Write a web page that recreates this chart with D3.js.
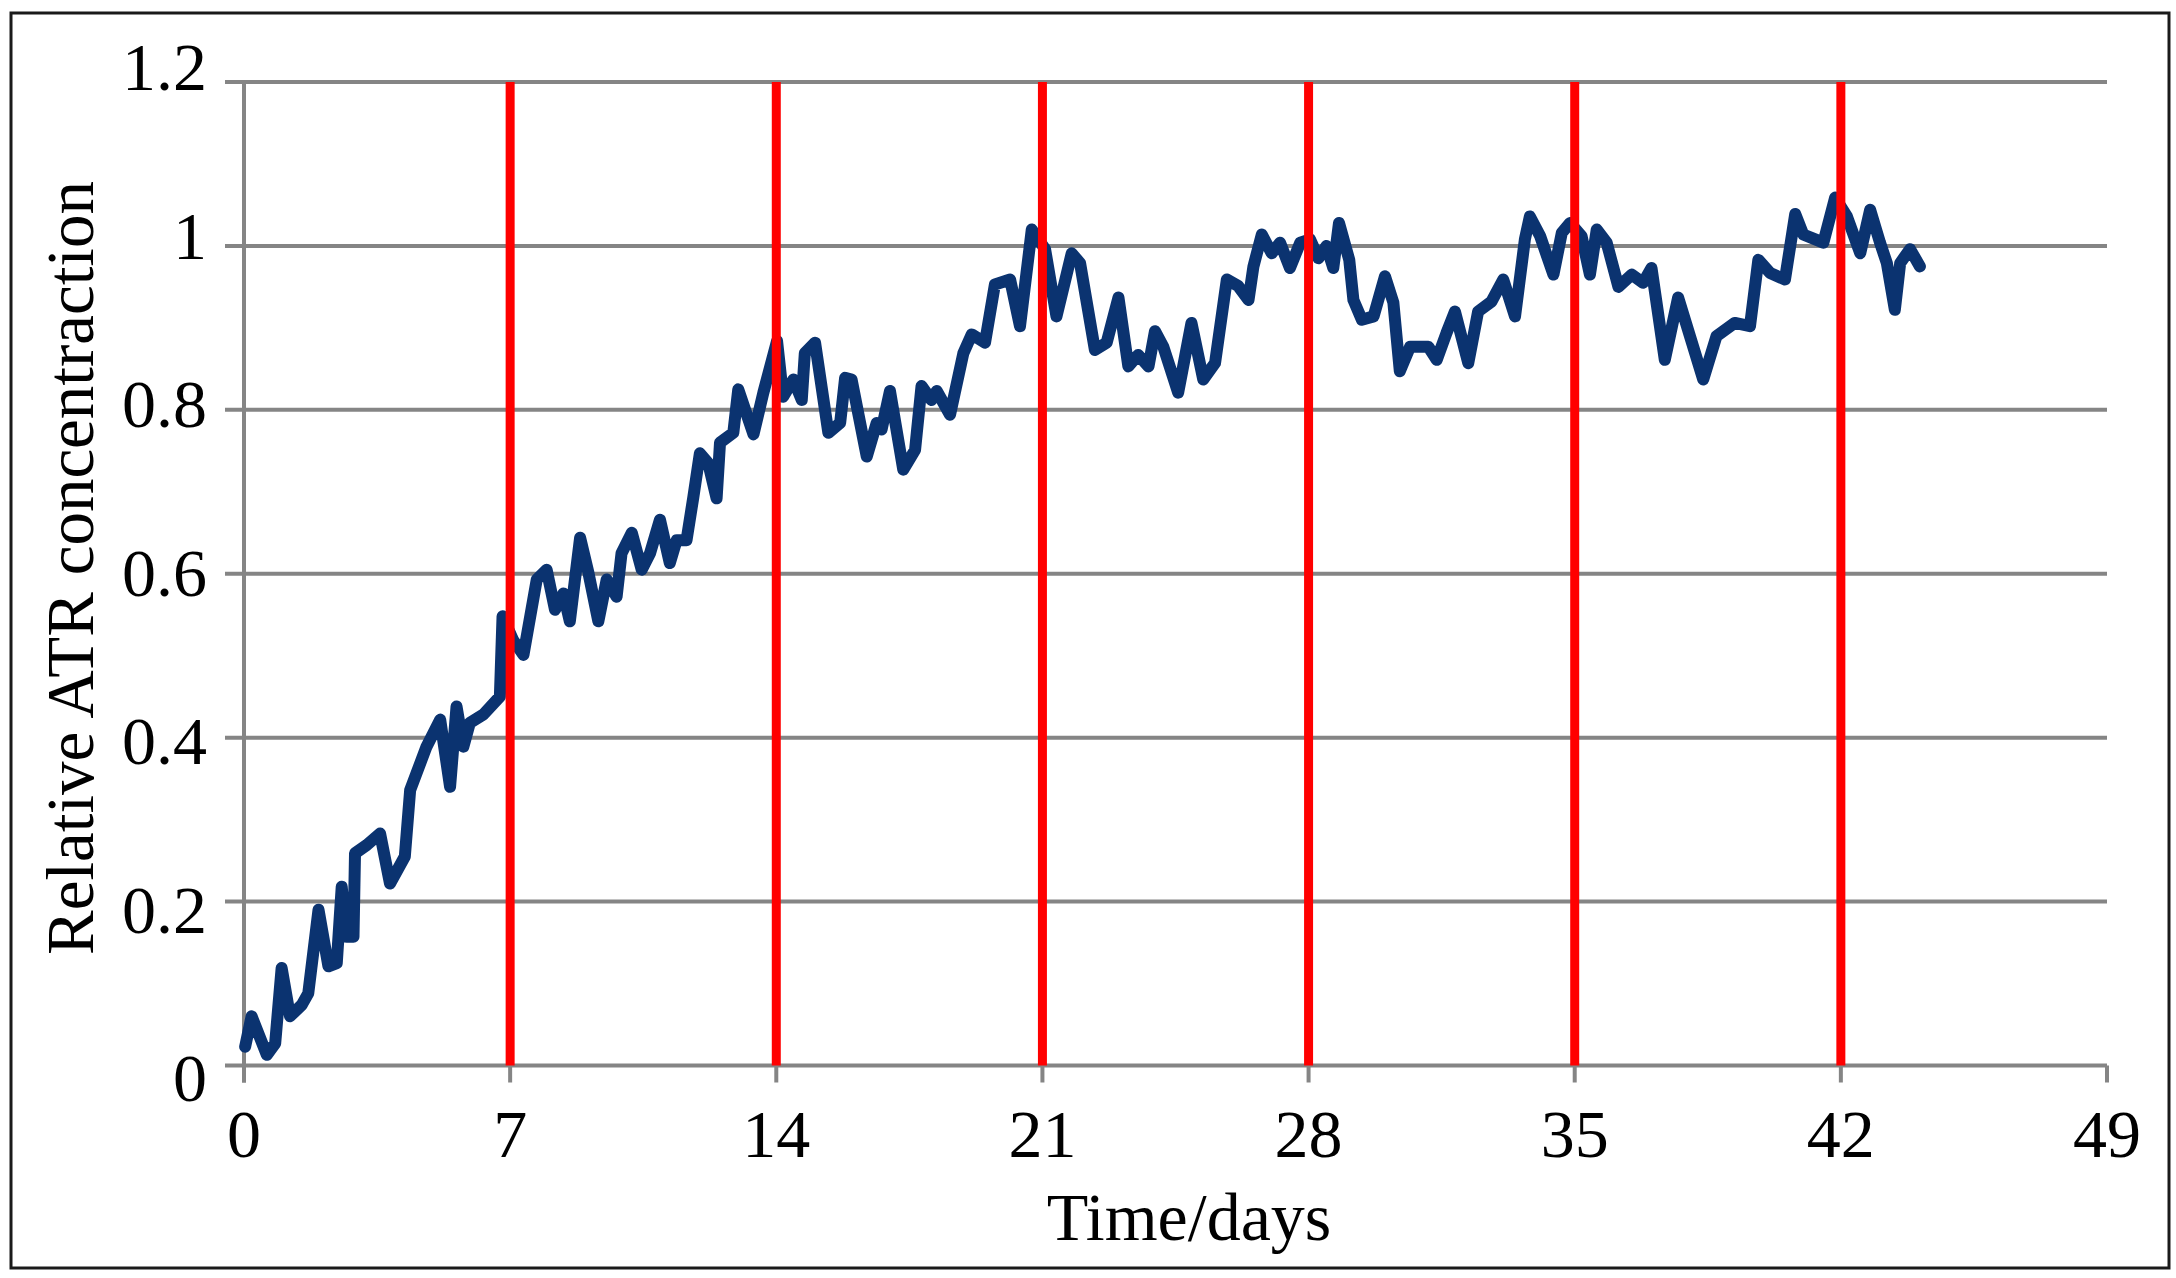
<!DOCTYPE html>
<html>
<head>
<meta charset="utf-8">
<script src="https://cdn.jsdelivr.net/npm/d3@7"></script>
<style>
  html, body { margin: 0; padding: 0; background: #fff; }
  svg { display: block; }
  text { font-family: "Liberation Serif", "Times New Roman", serif; fill: #000; }
</style>
</head>
<body>
<svg id="chart" width="2176" height="1278"></svg>
<script>
// ---- data ----
const days = [
  0.03,0.20,0.60,0.82,0.99,1.21,1.52,1.69,1.96,2.22,2.44,2.57,2.70,2.88,2.92,3.23,3.58,3.84,4.23,4.37,
  4.80,5.16,5.42,5.59,5.77,5.94,6.29,6.73,6.80,7.08,7.35,7.70,7.96,8.18,8.40,8.57,8.84,9.06,9.32,9.54,
  9.80,9.93,10.20,10.46,10.68,10.94,11.20,11.38,11.64,11.82,11.99,12.21,12.43,12.52,12.87,13.00,13.40,13.66,14.02,14.18,
  14.45,14.67,14.75,15.02,15.37,15.68,15.81,15.98,16.38,16.64,16.77,16.99,17.34,17.65,17.82,18.08,18.22,18.57,18.92,19.14,
  19.49,19.75,20.15,20.41,20.72,21.07,21.37,21.77,21.99,22.38,22.69,23.00,23.26,23.52,23.79,23.96,24.18,24.57,24.92,25.23,
  25.54,25.85,26.15,26.42,26.55,26.77,27.03,27.25,27.51,27.78,28.04,28.26,28.47,28.65,28.80,29.07,29.18,29.40,29.71,30.01,
  30.23,30.40,30.67,30.93,31.15,31.37,31.63,31.85,32.20,32.46,32.81,33.12,33.43,33.69,33.82,34.09,34.44,34.66,34.88,35.18,
  35.40,35.58,35.84,36.15,36.50,36.80,37.02,37.37,37.72,38.38,38.73,39.21,39.61,39.83,40.14,40.53,40.80,41.01,41.54,41.85,
  42.16,42.51,42.77,43.03,43.21,43.42,43.56,43.82,44.08
];
const concentration = [
  0.023,0.060,0.013,0.027,0.119,0.060,0.074,0.088,0.190,0.121,0.125,0.218,0.157,0.157,0.259,0.269,0.283,0.222,0.255,0.336,
  0.389,0.422,0.340,0.438,0.389,0.418,0.428,0.450,0.548,0.519,0.501,0.593,0.605,0.556,0.576,0.542,0.644,0.601,0.542,0.593,
  0.572,0.625,0.650,0.605,0.625,0.666,0.613,0.641,0.641,0.694,0.747,0.735,0.692,0.760,0.772,0.825,0.770,0.821,0.884,0.816,
  0.837,0.812,0.869,0.882,0.772,0.784,0.839,0.837,0.743,0.784,0.776,0.823,0.727,0.751,0.829,0.812,0.823,0.794,0.869,0.892,
  0.882,0.953,0.959,0.902,1.020,0.996,0.914,0.991,0.979,0.873,0.882,0.937,0.853,0.867,0.853,0.896,0.877,0.821,0.906,0.837,
  0.857,0.959,0.951,0.934,0.975,1.014,0.991,1.004,0.973,1.004,1.008,0.985,1.000,0.973,1.028,0.983,0.934,0.910,0.914,0.963,
  0.931,0.847,0.877,0.877,0.877,0.861,0.894,0.920,0.857,0.920,0.932,0.959,0.914,1.008,1.036,1.012,0.965,1.016,1.028,1.012,
  0.965,1.020,1.004,0.950,0.965,0.955,0.973,0.861,0.937,0.837,0.890,0.906,0.902,0.983,0.967,0.959,1.039,1.014,1.004,1.059,
  1.036,0.991,1.044,1.004,0.979,0.922,0.979,0.996,0.975
];
const xTicks = [0, 7, 14, 21, 28, 35, 42, 49];
const yTicks = [0, 0.2, 0.4, 0.6, 0.8, 1, 1.2];
const markerDays = [7, 14, 21, 28, 35, 42];
const xTitle = "Time/days";
const yTitle = "Relative ATR concentraction";

// ---- layout ----
const svg = d3.select("#chart");
const plotLeft = 244, plotRight = 2107, plotTop = 82, plotBottom = 1065.5;

const x = d3.scaleLinear().domain([0, 49]).range([plotLeft, plotRight]);
const y = d3.scaleLinear().domain([0, 1.2]).range([plotBottom, plotTop]);
// label positions in the picture are spread slightly wider than the grid
const yLab = d3.scaleLinear().domain([0, 1.2]).range([1078, 67]);

// outer frame
svg.append("rect")
  .attr("x", 11).attr("y", 13)
  .attr("width", 2158).attr("height", 1255)
  .attr("fill", "none").attr("stroke", "#1a1a1a").attr("stroke-width", 3);

const grid = "#858585";

// horizontal gridlines (extend left as tick marks)
svg.append("g").selectAll("line").data(yTicks).join("line")
  .attr("x1", plotLeft - 19).attr("x2", plotRight)
  .attr("y1", d => y(d)).attr("y2", d => y(d))
  .attr("stroke", grid).attr("stroke-width", 4);

// y axis line
svg.append("line")
  .attr("x1", plotLeft).attr("x2", plotLeft)
  .attr("y1", plotTop).attr("y2", plotBottom + 17)
  .attr("stroke", grid).attr("stroke-width", 4);

// x tick marks
svg.append("g").selectAll("line").data(xTicks).join("line")
  .attr("x1", d => x(d)).attr("x2", d => x(d))
  .attr("y1", plotBottom).attr("y2", plotBottom + 17)
  .attr("stroke", grid).attr("stroke-width", 4);

// data line
const pts = days.map((d, i) => [d, concentration[i]]);
svg.append("path")
  .datum(pts)
  .attr("fill", "none")
  .attr("stroke", "#0b3370")
  .attr("stroke-width", 12)
  .attr("stroke-linejoin", "round")
  .attr("stroke-linecap", "round")
  .attr("d", d3.line().x(d => x(d[0])).y(d => y(d[1])));

// red weekly lines
svg.append("g").selectAll("line").data(markerDays).join("line")
  .attr("x1", d => x(d)).attr("x2", d => x(d))
  .attr("y1", y(1.2)).attr("y2", y(0))
  .attr("stroke", "#ff0000").attr("stroke-width", 9);

// y tick labels
svg.append("g").selectAll("text").data(yTicks).join("text")
  .attr("x", 207).attr("y", d => yLab(d))
  .attr("dy", "0.34em")
  .attr("text-anchor", "end")
  .attr("font-size", 68)
  .text(d => d3.format("~g")(d));

// x tick labels
svg.append("g").selectAll("text").data(xTicks).join("text")
  .attr("x", d => x(d)).attr("y", 1157)
  .attr("text-anchor", "middle")
  .attr("font-size", 68)
  .text(d => d);

// axis titles
svg.append("text")
  .attr("x", 1189).attr("y", 1240)
  .attr("text-anchor", "middle")
  .attr("font-size", 68)
  .text(xTitle);

svg.append("text")
  .attr("transform", "translate(93,568) rotate(-90)")
  .attr("text-anchor", "middle")
  .attr("font-size", 67)
  .text(yTitle);
</script>
</body>
</html>
